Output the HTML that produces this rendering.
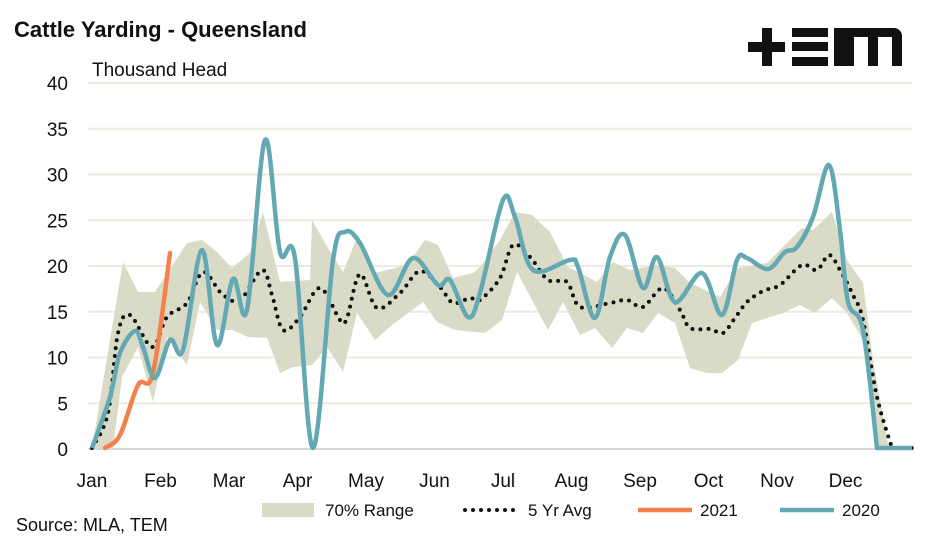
<!DOCTYPE html><html><head><style>body{margin:0;background:#fff}svg{display:block;font-family:"Liberation Sans",sans-serif}</style></head><body>
<svg id="s" width="947" height="543" viewBox="0 0 947 543">
<text x="14" y="37" font-size="22" font-weight="bold" fill="#111">Cattle Yarding - Queensland</text>
<text x="92" y="76" font-size="19" fill="#111">Thousand Head</text>
<g fill="#111"><rect x="748" y="42" width="37" height="10"/><rect x="762" y="28" width="10" height="38"/>
<rect x="792" y="28" width="36" height="9"/><rect x="792" y="42" width="36" height="9"/><rect x="792" y="57" width="36" height="9"/>
<path d="M834 66V28h60a8 8 0 0 1 8 8v30h-10V37h-14v29h-10V37h-14v29z"/></g>
<g stroke="#ecebe0" stroke-width="2" id="grid"></g>
<g font-size="19" fill="#111" text-anchor="end" id="yl"></g>
<line x1="88" x2="912" y1="449" y2="449" stroke="#d8d8d8" stroke-width="2"/>
<g font-size="19" fill="#111" text-anchor="middle" id="xl"></g>
<path id="band" fill="#dadbc6"/>
<path id="avg" fill="none" stroke="#111" stroke-width="4" stroke-dasharray="0 8" stroke-linecap="round"/>
<path id="l21" fill="none" stroke="#f4804d" stroke-width="4.5" stroke-linecap="round"/>
<path id="l20" fill="none" stroke="#63a8b2" stroke-width="4.5" stroke-linejoin="round"/>
<rect x="262" y="503" width="52" height="14" fill="#dadbc6"/><text x="325" y="516" font-size="17" fill="#111">70% Range</text>
<line x1="465" x2="520" y1="510" y2="510" stroke="#111" stroke-width="4" stroke-dasharray="0 8" stroke-linecap="round"/><text x="528" y="516" font-size="17" fill="#111">5 Yr Avg</text>
<line x1="638" x2="692" y1="510" y2="510" stroke="#f4804d" stroke-width="4.5"/><text x="700" y="516" font-size="17" fill="#111">2021</text>
<line x1="780" x2="834" y1="510" y2="510" stroke="#63a8b2" stroke-width="4.5"/><text x="842" y="516" font-size="17" fill="#111">2020</text>
<text x="16" y="531" font-size="18" fill="#111">Source: MLA, TEM</text>
</svg>
<script>
const NS="http://www.w3.org/2000/svg";
function el(p,t,a,txt){const e=document.createElementNS(NS,t);for(const k in a)e.setAttribute(k,a[k]);if(txt)e.textContent=txt;document.getElementById(p).appendChild(e);}
for(let k=0;k<=8;k++){const y=449-k*45.75;if(k>0)el("grid","line",{x1:88,x2:912,y1:y,y2:y});el("yl","text",{x:68,y:y+7},String(k*5));}
"Jan Feb Mar Apr May Jun Jul Aug Sep Oct Nov Dec".split(" ").forEach((m,i)=>el("xl","text",{x:92+i*68.5,y:487},m));
function P(s){const a=s.trim().split(/\s+/).map(Number),r=[];for(let i=0;i<a.length;i+=2)r.push([a[i],a[i+1]]);return r;}
const c=v=>Math.min(448,v);
function smooth(p){let d="M"+p[0];for(let i=0;i<p.length-1;i++){const p0=p[i-1]||p[i],p1=p[i],p2=p[i+1],p3=p[i+2]||p2;
d+=` C${p1[0]+(p2[0]-p0[0])/6},${c(p1[1]+(p2[1]-p0[1])/6)} ${p2[0]-(p3[0]-p1[0])/6},${c(p2[1]-(p3[1]-p1[1])/6)} ${p2[0]},${p2[1]}`;}return d;}
const l20=P("92 448 110 397 120 353 135 331 143 347 155 378 170 340 183 350 202 250 217 345 233 279 247 310 265 140 280 252 295 258 313 448 333 260 345 232 360 243 388 295 413 258 438 285 450 280 468 317 480 293 503 200 515 217 533 270 570 260 578 267 595 318 610 257 625 235 643 288 657 257 675 302 702 273 722 315 737 260 747 258 768 269 785 252 797 247 813 217 829 165 840 230 848 302 863 330 877 448");
const avg=P("92 448 108 413 118 333 130 315 152 347 167 317 187 303 203 272 222 294 240 300 262 270 272 295 283 330 300 317 320 288 340 320 347 318 360 274 377 308 400 293 420 271 440 287 453 303 470 298 480 300 500 278 513 245 530 257 548 280 567 282 580 307 610 303 627 300 643 307 663 288 680 310 690 328 710 329 723 333 735 318 747 302 763 291 780 285 802 265 817 270 829 255 840 270 853 295 863 320 877 397 892 448");
const up="92 448 123 262 138 292 155 292 187 243 202 240 217 252 232 268 250 253 263 212 280 282 310 280 312 220 328 248 343 272 358 235 375 273 407 265 425 240 438 245 453 278 473 273 480 267 500 240 515 212 532 215 550 232 568 267 580 273 597 282 613 262 630 270 657 265 675 268 690 283 720 297 737 268 767 263 802 228 813 230 832 212 847 260 863 283 873 360 888 445 912 448";
const lo="877 448 863 340 847 313 832 298 815 313 800 305 783 313 767 318 752 323 738 360 722 373 707 373 690 368 675 323 658 313 643 333 627 328 612 348 595 328 580 335 563 302 548 330 517 272 502 320 485 333 455 330 437 322 423 302 392 325 375 340 357 313 343 372 327 347 312 365 293 367 280 373 267 338 248 337 233 330 217 330 200 302 187 365 167 337 153 402 138 347 122 377 113 448";
document.getElementById("band").setAttribute("d","M"+up+" "+lo+"Z");
document.getElementById("l20").setAttribute("d",smooth(l20)+" L912 448");
document.getElementById("avg").setAttribute("d",smooth(avg)+" L912 448");
document.getElementById("l21").setAttribute("d",smooth(P("105 448 120 435 138 385 153 373 170 253")));
</script></body></html>
